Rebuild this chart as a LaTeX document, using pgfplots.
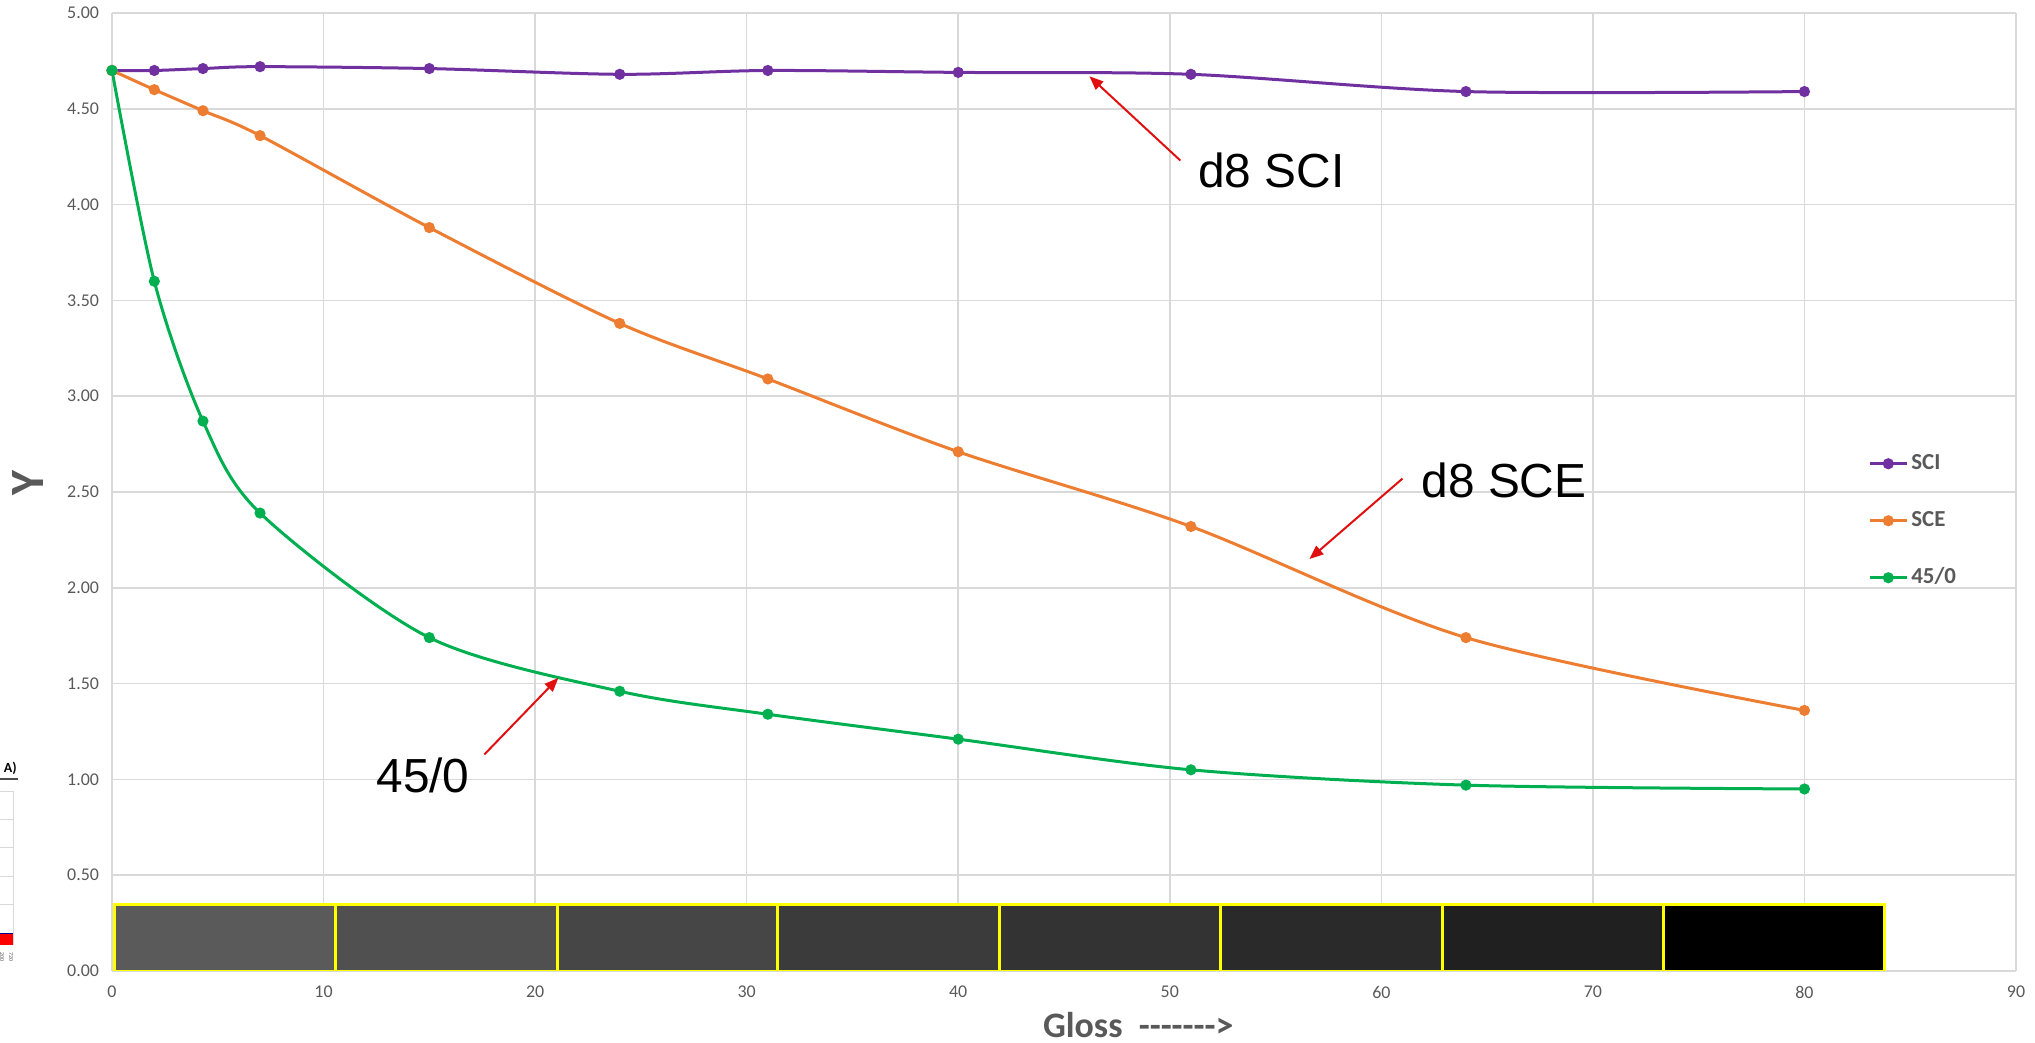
\documentclass[border=0pt]{standalone}
\usepackage{pgfplots}
\pgfplotsset{compat=1.18}
\usepackage{fontspec}
\setmainfont{Carlito}
\newfontfamily\arial{Liberation Sans}
\usetikzlibrary{arrows.meta}
\definecolor{sci}{HTML}{7030A0}
\definecolor{sce}{HTML}{ED7D31}
\definecolor{gz}{HTML}{00B050}
\definecolor{txt}{HTML}{595959}
\definecolor{grd}{HTML}{D9D9D9}
\definecolor{axl}{HTML}{BFBFBF}
\definecolor{arr}{HTML}{E01010}
\definecolor{yel}{HTML}{FFFF00}
\definecolor{b1}{HTML}{5A5A5A}
\definecolor{b2}{HTML}{505050}
\definecolor{b3}{HTML}{464646}
\definecolor{b4}{HTML}{3B3B3B}
\definecolor{b5}{HTML}{333333}
\definecolor{b6}{HTML}{2A2A2A}
\definecolor{b7}{HTML}{202020}
\definecolor{b8}{HTML}{000000}

\begin{document}
\begin{tikzpicture}
\begin{axis}[
  at={(56bp,36bp)}, anchor=south west,
  scale only axis, width=952bp, height=479bp,
  xmin=0, xmax=90, ymin=0, ymax=5,
  xtick={0,10,...,90}, ytick={0,0.5,...,5},
  grid=major, major grid style={draw=grd, line width=0.75bp},
  axis line style={draw=none},
  major tick length=0pt,
  /pgf/number format/assume math mode=true,
  yticklabel style={/pgf/number format/fixed, /pgf/number format/fixed zerofill, /pgf/number format/precision=2, xshift=-3bp},
  ticklabel style={font=\fontsize{9}{10}\selectfont, text=txt},
  xticklabel style={yshift=-4bp},
  xlabel={Gloss\ \ -{}-{}-{}-{}-{}-{}-{}>},
  xlabel style={font=\bfseries\fontsize{18}{20}\selectfont, text=txt,
    at={(axis description cs:0.539,-0.056)}, anchor=center},
  ylabel={Y},
  ylabel style={font=\bfseries\fontsize{24}{26}\selectfont, text=txt,
    at={(axis description cs:-0.044,0.509)}, anchor=center},
  legend style={at={(axis cs:83.0,2.35)}, anchor=west, draw=none, fill=none,
    inner sep=0pt, row sep=16bp,
    nodes={inner sep=1.5bp, text height=7.5bp, text depth=2bp,
      font=\bfseries\fontsize{11.5}{13}\selectfont, text=txt}},
  legend cell align=left,
  legend image code/.code={\draw[#1, mark=none] (0bp,0bp) -- (18.5bp,0bp);
    \draw[#1] plot coordinates {(9.25bp,0bp)};},
]
% gloss strip
\addplot[forget plot, fill=b1, draw=yel, line width=1.5bp] coordinates {(0.1,0) (10.57,0) (10.57,0.345) (0.1,0.345)} -- cycle;
\addplot[forget plot, fill=b2, draw=yel, line width=1.5bp] coordinates {(10.57,0) (21.04,0) (21.04,0.345) (10.57,0.345)} -- cycle;
\addplot[forget plot, fill=b3, draw=yel, line width=1.5bp] coordinates {(21.04,0) (31.47,0) (31.47,0.345) (21.04,0.345)} -- cycle;
\addplot[forget plot, fill=b4, draw=yel, line width=1.5bp] coordinates {(31.47,0) (41.93,0) (41.93,0.345) (31.47,0.345)} -- cycle;
\addplot[forget plot, fill=b5, draw=yel, line width=1.5bp] coordinates {(41.93,0) (52.4,0) (52.4,0.345) (41.93,0.345)} -- cycle;
\addplot[forget plot, fill=b6, draw=yel, line width=1.5bp] coordinates {(52.4,0) (62.88,0) (62.88,0.345) (52.4,0.345)} -- cycle;
\addplot[forget plot, fill=b7, draw=yel, line width=1.5bp] coordinates {(62.88,0) (73.35,0) (73.35,0.345) (62.88,0.345)} -- cycle;
\addplot[forget plot, fill=b8, draw=yel, line width=1.5bp] coordinates {(73.35,0) (83.8,0) (83.8,0.345) (73.35,0.345)} -- cycle;
\draw[axl, line width=1bp] (axis cs:0,-0.012) -- (axis cs:90,-0.012);

% SCI
\addplot[sci, line width=1.5bp, smooth, mark=*, mark size=2bp, mark options={solid, fill=sci}] coordinates {
(0,4.70) (2,4.70) (4.3,4.71) (7,4.72) (15,4.71) (24,4.68) (31,4.70) (40,4.69) (51,4.68) (64,4.59) (80,4.59)};
% SCE
\addplot[sce, line width=1.5bp, smooth, mark=*, mark size=2bp, mark options={solid, fill=sce}] coordinates {
(0,4.70) (2,4.60) (4.3,4.49) (7,4.36) (15,3.88) (24,3.38) (31,3.09) (40,2.71) (51,2.32) (64,1.74) (80,1.36)};
% 45/0
\addplot[gz, line width=1.5bp, smooth, mark=*, mark size=2bp, mark options={solid, fill=gz}] coordinates {
(0,4.70) (2,3.60) (4.3,2.87) (7,2.39) (15,1.74) (24,1.46) (31,1.34) (40,1.21) (51,1.05) (64,0.97) (80,0.95)};
\legend{SCI,SCE,45/0}

% annotations
\draw[arr, line width=1bp, -{Triangle[length=7bp,width=5.5bp]}] (axis cs:50.5,4.23) -- (axis cs:46.2,4.67);
\draw[arr, line width=1bp, -{Triangle[length=7bp,width=5.5bp]}] (axis cs:61.0,2.57) -- (axis cs:56.6,2.15);
\draw[arr, line width=1bp, -{Triangle[length=7bp,width=5.5bp]}] (axis cs:17.6,1.13) -- (axis cs:21.1,1.53);
\node[font=\arial\fontsize{24}{26}\selectfont, anchor=center] at (axis cs:54.8,4.18) {d8 SCI};
\node[font=\arial\fontsize{24}{26}\selectfont, anchor=center] at (axis cs:65.8,2.56) {d8 SCE};
\node[font=\arial\fontsize{24}{26}\selectfont, anchor=center] at (axis cs:14.7,1.02) {45/0};
\end{axis}

% fragment of neighbouring chart at the left edge
\node[font=\bfseries\fontsize{7}{8}\selectfont, anchor=east, inner sep=0pt] at (8.5bp,137.5bp) {A)};
\draw[black!70, line width=0.6bp] (0,132bp) -- (9bp,132bp);
\draw[grd, line width=0.5bp] (0,125.5bp) -- (6.5bp,125.5bp) -- (6.5bp,49bp);
\foreach \yy in {111.5,97.5,83,69} {\draw[grd, line width=0.5bp] (0,\yy bp) -- (6.5bp,\yy bp);}
\fill[red] (0,49bp) rectangle (6.5bp,55bp);
\draw[blue!60!black, line width=0.4bp] (0,55bp) -- (6.5bp,55bp);
\node[font=\fontsize{3}{3}\selectfont, text=txt, rotate=-90, inner sep=0pt] at (5.5bp,43bp) {720};
\node[font=\fontsize{3}{3}\selectfont, text=txt, rotate=-90, inner sep=0pt] at (1bp,43bp) {200};

\pgfresetboundingbox
\useasboundingbox (0,0) rectangle (1017.5bp,521.5bp);
\end{tikzpicture}
\end{document}
